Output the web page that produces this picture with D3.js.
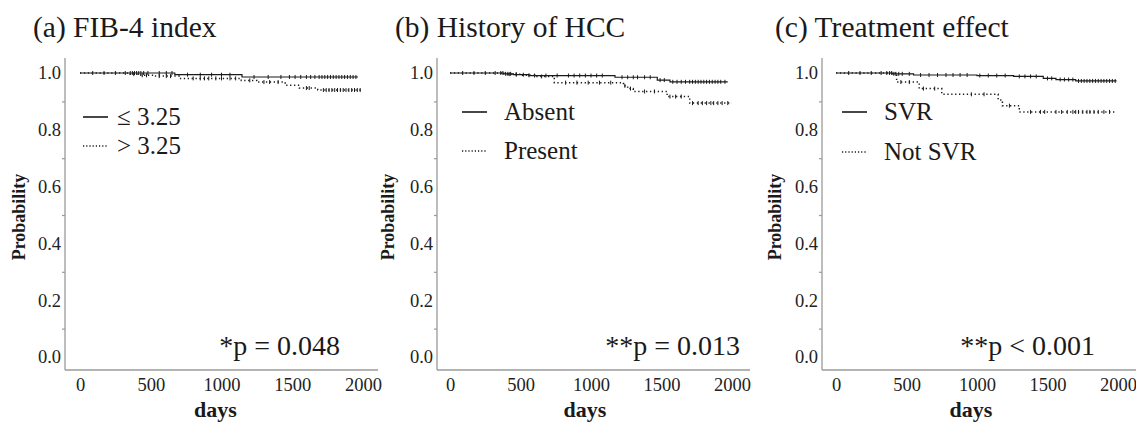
<!DOCTYPE html>
<html>
<head>
<meta charset="utf-8">
<script src="https://cdn.jsdelivr.net/npm/d3@7"></script>
<style>
  body { margin: 0; background: #fff; }
  svg text { font-family: "Liberation Serif", "Times New Roman", serif; }
</style>
</head>
<body>
<svg id="km" width="1136" height="423"></svg>
<script>
// Kaplan-Meier curves, three panels. Steps are [day, survival]; last step = end of follow-up.

const xTicks = [0, 500, 1000, 1500, 2000];
const yTicks = [0, 0.2, 0.4, 0.6, 0.8, 1.0];
const yMinorTicks = [0.1, 0.3, 0.5, 0.7, 0.9];

const titles = ["(a) FIB-4 index", "(b) History of HCC", "(c) Treatment effect"];
const legendLabels = [["≤ 3.25", "> 3.25"], ["Absent", "Present"], ["SVR", "Not SVR"]];
const stars = ["*", "**", "**"];
const pTexts = ["p = 0.048", "p = 0.013", "p < 0.001"];

const fibLow = [[0, 1], [670, 0.994], [1145, 0.986], [1965, 0.986]];
const fibHigh = [[0, 1], [350, 0.996], [420, 0.992], [520, 0.989], [700, 0.981], [1140, 0.974],
  [1250, 0.968], [1450, 0.957], [1550, 0.947], [1680, 0.94], [1990, 0.94]];
const hccAbsent = [[0, 1], [380, 0.997], [450, 0.994], [560, 0.991], [1170, 0.985],
  [1470, 0.975], [1560, 0.969], [1970, 0.969]];
const hccPresent = [[0, 1], [400, 0.996], [500, 0.992], [600, 0.988], [740, 0.966], [1230, 0.955],
  [1260, 0.945], [1300, 0.935], [1540, 0.917], [1700, 0.894], [2000, 0.894]];
const svr = [[0, 1], [400, 0.997], [550, 0.993], [1000, 0.991], [1260, 0.988], [1470, 0.981],
  [1560, 0.977], [1700, 0.972], [1990, 0.972]];
const notSvr = [[0, 1], [430, 0.968], [590, 0.945], [750, 0.925], [1150, 0.905], [1180, 0.885],
  [1300, 0.863], [1990, 0.863]];

// censoring times (days)
const fibLowCensor = [90, 170, 250, 320, 355, 370, 385, 400, 415, 430, 450, 480, 560, 610, 650, 760,
  850, 930, 1000, 1060, 1230, 1330, 1420, 1480, 1520, 1560, 1600, 1630, 1660, 1690, 1710, 1730,
  1750, 1770, 1790, 1810, 1830, 1850, 1870, 1890, 1910, 1930, 1950];
const fibHighCensor = [380, 440, 470, 560, 610, 640, 800, 850, 880, 910, 960, 1000, 1060, 1100,
  1200, 1300, 1340, 1400, 1600, 1620, 1720, 1740, 1760, 1780, 1800, 1820, 1840, 1860, 1880,
  1900, 1920, 1940, 1960, 1980];
const hccAbsentCensor = [90, 170, 250, 320, 360, 375, 395, 410, 430, 470, 520, 600, 680, 760, 840,
  880, 920, 960, 1000, 1040, 1080, 1220, 1260, 1300, 1330, 1380, 1420, 1490, 1520, 1580, 1610,
  1640, 1670, 1700, 1720, 1740, 1760, 1780, 1800, 1820, 1840, 1860, 1880, 1900, 1920, 1950];
const hccPresentCensor = [420, 470, 560, 650, 820, 900, 980, 1060, 1140, 1240, 1280, 1380, 1450,
  1560, 1600, 1640, 1720, 1760, 1790, 1820, 1850, 1870, 1900, 1930, 1970];
const svrCensor = [90, 170, 250, 320, 360, 380, 395, 410, 425, 445, 470, 520, 600, 660, 720, 780,
  830, 880, 930, 1020, 1080, 1140, 1200, 1300, 1340, 1380, 1420, 1500, 1530, 1590, 1620, 1650,
  1680, 1720, 1740, 1760, 1780, 1800, 1820, 1840, 1860, 1880, 1900, 1920, 1940, 1960, 1980];
const notSvrCensor = [460, 520, 620, 700, 960, 1050, 1230, 1380, 1450, 1480, 1560, 1600, 1640,
  1680, 1700, 1720, 1750, 1780, 1800, 1830, 1860, 1900, 1940];

const panelData = [
  [{ steps: fibLow, censor: fibLowCensor, dotted: false }, { steps: fibHigh, censor: fibHighCensor, dotted: true }],
  [{ steps: hccAbsent, censor: hccAbsentCensor, dotted: false }, { steps: hccPresent, censor: hccPresentCensor, dotted: true }],
  [{ steps: svr, censor: svrCensor, dotted: false }, { steps: notSvr, censor: notSvrCensor, dotted: true }]
];

// layout per panel
const layout = [
  { axisX: 65, x0: 80, x1: 363, axisEnd: 378, titleX: 33, ylabX: 19, legX: 83, legY: [117, 146], pX: 340 },
  { axisX: 437, x0: 450, x1: 732, axisEnd: 750, titleX: 395, ylabX: 388, legX: 462, legY: [112, 151], pX: 740 },
  { axisX: 822, x0: 836, x1: 1118, axisEnd: 1136, titleX: 775, ylabX: 775, legX: 842, legY: [112, 152], pX: 1095 }
];

const svg = d3.select("#km");
const ink = "#1a1a1a";
const axisColor = "#9a9a9a";

const y = d3.scaleLinear().domain([0, 1]).range([357, 73]);

function survivalAt(steps, t) {
  let s = steps[0][1];
  for (const [d, v] of steps) if (d <= t) s = v;
  return s;
}

layout.forEach((L, i) => {
  const g = svg.append("g");
  const x = d3.scaleLinear().domain([0, 2000]).range([L.x0, L.x1]);
  const axisY = y(0) + 13;

  // title
  g.append("text")
    .attr("x", L.titleX).attr("y", 37)
    .attr("font-size", 29.5).attr("fill", ink)
    .text(titles[i]);

  // axis lines
  g.append("line")
    .attr("x1", L.axisX).attr("x2", L.axisX)
    .attr("y1", y(1) - 15).attr("y2", axisY)
    .attr("stroke", axisColor).attr("stroke-width", 1.3);
  g.append("line")
    .attr("x1", L.axisX).attr("x2", L.axisEnd)
    .attr("y1", axisY).attr("y2", axisY)
    .attr("stroke", axisColor).attr("stroke-width", 1.3);

  // y axis labels + minor ticks
  const yAxis = g.append("g")
    .attr("transform", `translate(${L.axisX},0)`)
    .call(d3.axisLeft(y).tickValues(yTicks).tickSize(0).tickPadding(4).tickFormat(d3.format(".1f")));
  yAxis.select(".domain").remove();
  yAxis.selectAll("text").attr("font-size", 18.5).attr("fill", "#222");

  const yMinor = g.append("g")
    .attr("transform", `translate(${L.axisX},0)`)
    .call(d3.axisLeft(y).tickValues(yMinorTicks).tickSize(3).tickFormat(""));
  yMinor.select(".domain").remove();
  yMinor.selectAll("line").attr("stroke", axisColor).attr("stroke-width", 1.2);

  // x axis labels
  const xAxis = g.append("g")
    .attr("transform", `translate(0,${axisY})`)
    .call(d3.axisBottom(x).tickValues(xTicks).tickSize(0).tickPadding(8).tickFormat(d3.format("d")));
  xAxis.select(".domain").remove();
  xAxis.selectAll("text").attr("font-size", 18.5).attr("fill", "#222");

  // axis titles
  g.append("text")
    .attr("transform", `translate(${L.ylabX + 6},${(y(0) + y(1)) / 2 + 2}) rotate(-90)`)
    .attr("text-anchor", "middle")
    .attr("font-size", 18).attr("font-weight", "bold").attr("fill", ink)
    .text("Probability");
  g.append("text")
    .attr("x", x(1000) - 6).attr("y", 417)
    .attr("text-anchor", "middle")
    .attr("font-size", 22).attr("font-weight", "bold").attr("fill", ink)
    .text("days");

  // curves
  const line = d3.line().curve(d3.curveStepAfter).x(d => x(d[0])).y(d => y(d[1]));
  panelData[i].forEach(s => {
    g.append("path")
      .attr("d", line(s.steps))
      .attr("fill", "none")
      .attr("stroke", ink)
      .attr("stroke-width", s.dotted ? 1.5 : 1.2)
      .attr("stroke-dasharray", s.dotted ? "1.3,2.6" : null);
    g.selectAll(null)
      .data(s.censor)
      .join("line")
      .attr("x1", d => x(d)).attr("x2", d => x(d))
      .attr("y1", d => y(survivalAt(s.steps, d)) - 2)
      .attr("y2", d => y(survivalAt(s.steps, d)) + 2)
      .attr("stroke", ink).attr("stroke-width", 1);
  });

  // legend
  legendLabels[i].forEach((lab, k) => {
    const ly = L.legY[k];
    g.append("line")
      .attr("x1", L.legX).attr("x2", L.legX + 25)
      .attr("y1", ly).attr("y2", ly)
      .attr("stroke", ink)
      .attr("stroke-width", k === 0 ? 1.6 : 1.4)
      .attr("stroke-dasharray", k === 0 ? null : "1.2,2");
    g.append("text")
      .attr("x", L.legX + (i === 0 ? 34 : 42)).attr("y", ly + 8)
      .attr("font-size", 25).attr("fill", ink)
      .text(lab);
  });

  // p value
  const pt = g.append("text")
    .attr("x", L.pX).attr("y", 355)
    .attr("text-anchor", "end")
    .attr("font-size", 28).attr("fill", ink);
  pt.append("tspan").text(stars[i]);
  pt.append("tspan").text(pTexts[i]);
});
</script>
</body>
</html>
